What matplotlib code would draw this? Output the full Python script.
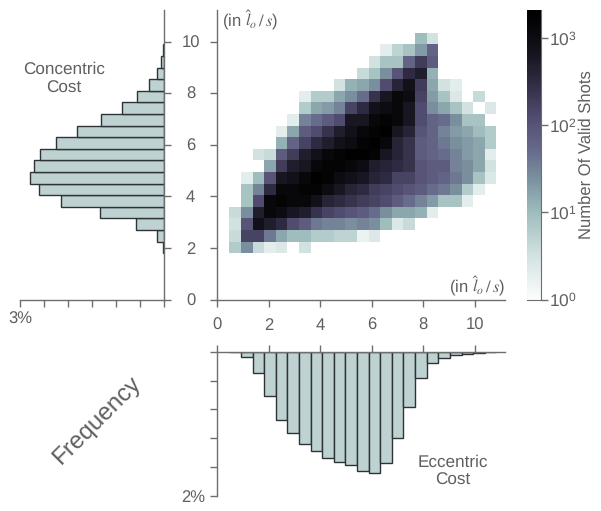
# coding: utf-8
# joint histogram of concentric / eccentric cost with log colour bar
import numpy as np
import matplotlib
matplotlib.use('Agg')
import matplotlib.pyplot as plt
from matplotlib.colors import LinearSegmentedColormap, LogNorm

plt.rcParams['font.family'] = ['Liberation Sans', 'DejaVu Sans']
plt.rcParams['mathtext.fontset'] = 'stix'
plt.rcParams['text.hinting'] = 'no_hinting'

W, H = 601, 511
GREY = '#5f5f5f'
SPINE = '#6e6e6e'
BAR = '#bdd2d1'
EDGE = '#2e3338'

# bin edges
x_edges = 0.477 + 0.45 * np.arange(24)
y_edges = 1.79 + 0.45 * np.arange(20)

# 10*log10(shots) per cell, bottom row first, 0 = no shots
row00 = [8, 14, 6, 3, 4, 0, 5, 0, 0, 0, 0, 0, 0, 0, 0, 0, 0, 0, 0, 0, 0, 0, 0]
row01 = [6, 22, 22, 16, 12, 10, 10, 8, 8, 7, 7, 2, 4, 0, 0, 0, 0, 0, 0, 0, 0, 0, 0]
row02 = [5, 20, 29, 27, 25, 21, 19, 16, 15, 15, 14, 15, 14, 10, 4, 6, 0, 0, 0, 0, 0, 0, 0]
row03 = [6, 14, 27, 31, 30, 28, 27, 24, 22, 21, 20, 19, 17, 14, 12, 12, 11, 3, 0, 0, 0, 0, 0]
row04 = [0, 9, 21, 31, 32, 31, 31, 29, 26, 25, 24, 23, 22, 21, 19, 17, 15, 13, 9, 9, 3, 0, 0]
row05 = [0, 9, 15, 25, 31, 31, 32, 32, 30, 28, 26, 25, 23, 22, 21, 20, 19, 17, 16, 14, 8, 3, 0]
row06 = [0, 3, 10, 20, 28, 29, 31, 33, 32, 30, 29, 28, 26, 25, 22, 22, 20, 19, 18, 16, 14, 9, 4]
row07 = [0, 0, 0, 12, 23, 27, 28, 31, 32, 32, 31, 30, 27, 26, 25, 24, 20, 19, 19, 15, 14, 12, 5]
row08 = [0, 0, 5, 6, 19, 23, 27, 29, 31, 32, 33, 33, 32, 28, 26, 24, 19, 18, 17, 15, 13, 12, 3]
row09 = [0, 0, 0, 0, 11, 18, 22, 25, 27, 29, 30, 32, 33, 31, 26, 24, 19, 18, 16, 14, 13, 12, 8]
row10 = [0, 0, 0, 0, 3, 12, 19, 21, 24, 27, 29, 31, 32, 33, 28, 26, 20, 18, 15, 13, 12, 10, 8]
row11 = [0, 0, 0, 0, 0, 3, 15, 17, 19, 21, 28, 28, 31, 32, 31, 28, 21, 18, 17, 14, 9, 9, 0]
row12 = [0, 0, 0, 0, 0, 0, 8, 12, 13, 15, 22, 25, 29, 30, 31, 28, 21, 14, 12, 9, 5, 0, 4]
row13 = [0, 0, 0, 0, 0, 0, 3, 8, 8, 12, 14, 17, 24, 28, 31, 30, 22, 13, 9, 4, 0, 6, 0]
row14 = [0, 0, 0, 0, 0, 0, 0, 0, 0, 5, 11, 12, 14, 21, 26, 29, 23, 12, 5, 3, 0, 0, 0]
row15 = [0, 0, 0, 0, 0, 0, 0, 0, 0, 0, 0, 6, 9, 14, 20, 25, 27, 11, 0, 0, 0, 0, 0]
row16 = [0, 0, 0, 0, 0, 0, 0, 0, 0, 0, 0, 0, 5, 9, 9, 18, 23, 19, 0, 0, 0, 0, 0]
row17 = [0, 0, 0, 0, 0, 0, 0, 0, 0, 0, 0, 0, 0, 3, 7, 9, 13, 18, 0, 0, 0, 0, 0]
row18 = [0, 0, 0, 0, 0, 0, 0, 0, 0, 0, 0, 0, 0, 0, 0, 0, 10, 5, 0, 0, 0, 0, 0]

# marginals in percent
concentric = [0.02, 0.15, 0.59, 1.35, 2.16, 2.62, 2.79, 2.71, 2.58, 2.26, 1.81, 1.32, 0.88, 0.56, 0.31, 0.16, 0.06, 0.02]
eccentric = [0.01, 0.08, 0.30, 0.62, 0.95, 1.13, 1.28, 1.38, 1.47, 1.53, 1.57, 1.65, 1.68, 1.54, 1.20, 0.77, 0.36, 0.16, 0.09, 0.05, 0.03, 0.015, 0.005]

main_ticks = [0, 2, 4, 6, 8, 10]
conc_ticks = [0, 0.5, 1, 1.5, 2, 2.5, 3]
ecc_ticks = [0, 0.4, 0.8, 1.2, 1.6, 2]
cbar_ticks = [1, 10, 100, 1000]
cbar_max = 2150


def px_axes(fig, left, top, right, bottom):
    return fig.add_axes([left / W, 1 - bottom / H, (right - left) / W, (bottom - top) / H])


def style(ax, shown):
    for name, spine in ax.spines.items():
        spine.set_visible(name in shown)
        spine.set_color(SPINE)
        spine.set_linewidth(1.0)
    ax.tick_params(length=5, width=1.0, color=SPINE, labelcolor=GREY, labelsize=12)


rows = [row00, row01, row02, row03, row04, row05, row06, row07, row08, row09,
        row10, row11, row12, row13, row14, row15, row16, row17, row18]
grid = np.array(rows, dtype=float)
shots = np.where(grid > 0, 10 ** (grid / 10.0), np.nan)

cmap = LinearSegmentedColormap.from_list('shots', [
    (0.0, '#fbfdfd'), (0.15, '#d2e2e1'), (0.30, '#9dbdbc'), (0.42, '#7a8f9e'),
    (0.52, '#66688a'), (0.62, '#534f73'), (0.75, '#2f2b42'), (0.85, '#16141f'),
    (0.95, '#050507'), (1.0, '#000000')])

fig = plt.figure(figsize=(W / 100.0, H / 100.0), dpi=100)

# main panel
ax = px_axes(fig, 217, 10, 505, 299.5)
mesh = ax.pcolormesh(x_edges, y_edges, shots, cmap=cmap, norm=LogNorm(1, cbar_max), linewidth=0)
ax.set_xlim(0, 288 / 25.8)
ax.set_ylim(0, 289.5 / 25.8)
ax.set_xticks(main_ticks)
ax.set_yticks(main_ticks)
style(ax, ['left', 'bottom'])
ax.tick_params(axis='x', pad=8)
ax.tick_params(axis='y', pad=14)
for lab in ax.get_yticklabels():
    lab.set_ha('center')
ax.text(0.018, 0.965, r'(in $\hat{l}_o\,/\,s$)', transform=ax.transAxes, ha='left', va='center', color=GREY, fontsize=12)
ax.text(1.0, 0.045, r'(in $\hat{l}_o\,/\,s$)', transform=ax.transAxes, ha='right', va='center', color=GREY, fontsize=12)

# concentric marginal, left
ax_c = px_axes(fig, 20.3, 10, 164.3, 299.5)
ax_c.barh(y_edges[:len(concentric)], concentric, height=0.45, align='edge', color=BAR, edgecolor=EDGE, linewidth=1.0)
ax_c.set_xlim(3, 0)
ax_c.set_ylim(0, 289.5 / 25.8)
ax_c.set_xticks(conc_ticks)
ax_c.set_xticklabels(['' if t != 3 else '3%' for t in conc_ticks])
ax_c.set_yticks(main_ticks)
ax_c.set_yticklabels([])
style(ax_c, ['right', 'bottom'])
ax_c.yaxis.tick_right()
ax_c.tick_params(pad=4)
ax_c.patch.set_visible(False)
fig.text(64 / W, 1 - 79 / H, 'Concentric\nCost', ha='center', va='center', color=GREY, fontsize=12.3, linespacing=1.2)

# eccentric marginal, below
ax_e = px_axes(fig, 217, 351.7, 505, 496)
ax_e.bar(x_edges[:-1], eccentric, width=0.45, align='edge', color=BAR, edgecolor=EDGE, linewidth=1.0)
ax_e.set_xlim(0, 288 / 25.8)
ax_e.set_ylim(2, 0)
ax_e.set_xticks(main_ticks)
ax_e.set_xticklabels([])
ax_e.set_yticks(ecc_ticks)
ax_e.set_yticklabels(['' if t != 2 else '2%' for t in ecc_ticks])
style(ax_e, ['left', 'top'])
ax_e.xaxis.tick_top()
ax_e.patch.set_visible(False)
fig.text(453 / W, 1 - 471.5 / H, 'Eccentric\nCost', ha='center', va='center', color=GREY, fontsize=12.3, linespacing=1.2)

fig.text(96.5 / W, 1 - 420.5 / H, 'Frequency', ha='center', va='center', rotation=45, color=GREY, fontsize=17.5)

# colour bar
cax = px_axes(fig, 526.5, 9.5, 540.5, 299.5)
cbar = fig.colorbar(mesh, cax=cax)
cbar.set_ticks(cbar_ticks)
cbar.ax.minorticks_off()
cbar.outline.set_visible(False)
cax.tick_params(length=5, width=1.0, color=SPINE, labelcolor=GREY, labelsize=12.5, pad=1)
for name in ['right', 'bottom']:
    cax.spines[name].set_visible(True)
    cax.spines[name].set_color(SPINE)
fig.text(586.5 / W, 1 - 155 / H, 'Number Of Valid Shots', rotation=90, ha='center', va='center', color=GREY, fontsize=12)

fig.savefig('out.png', dpi=100)
